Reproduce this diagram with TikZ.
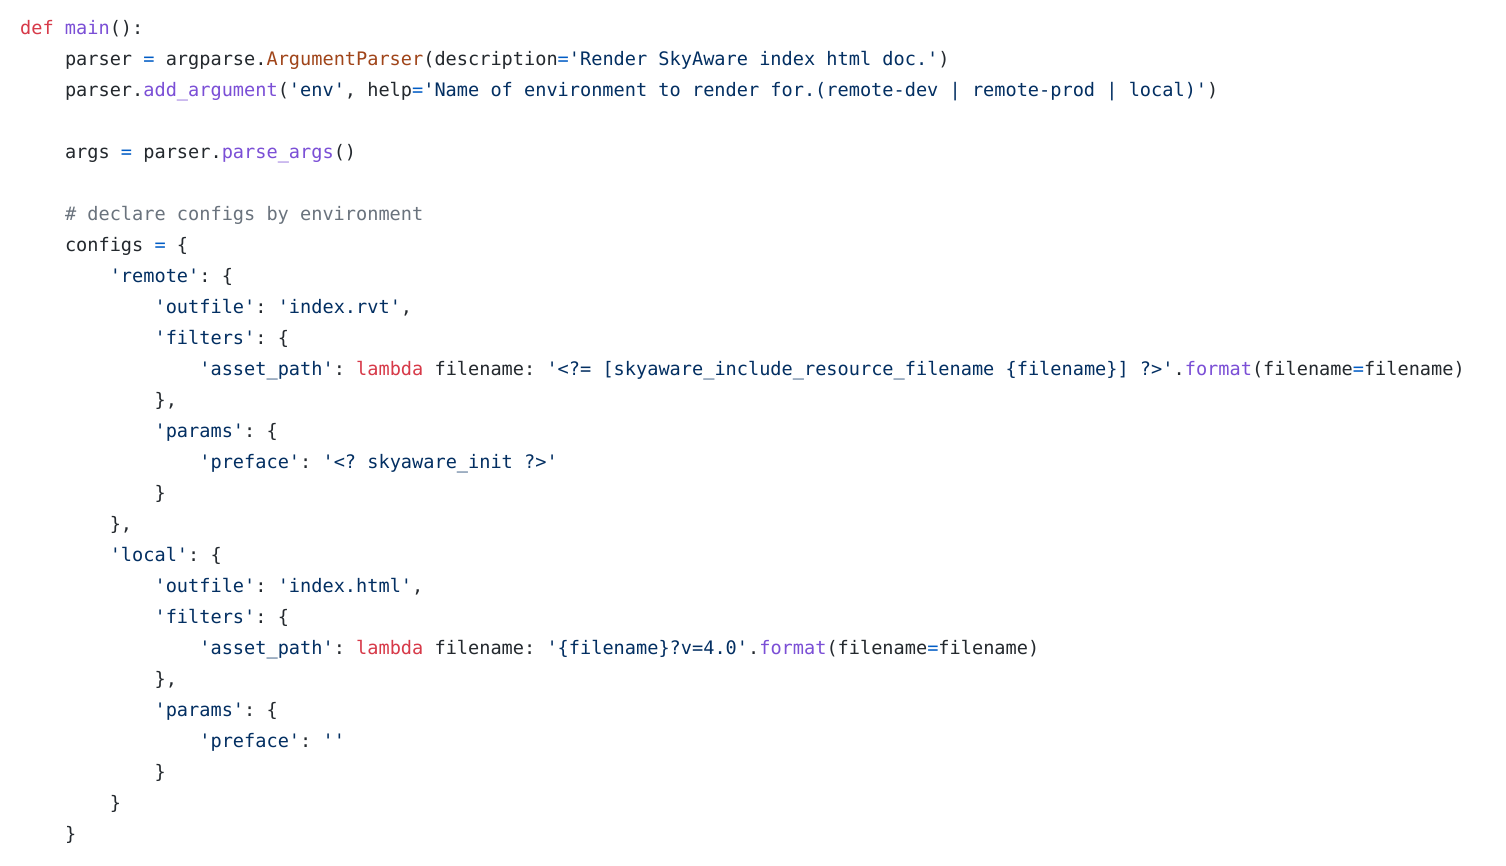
\documentclass[tikz,border=0pt]{standalone}
\usepackage{fontspec}
\newfontfamily\codefont{DejaVu Sans Mono}
\definecolor{ctext}{HTML}{24292E}
\definecolor{ckwc}{HTML}{D73A49}
\definecolor{cfnc}{HTML}{7B4FD6}
\definecolor{cclsc}{HTML}{A0451A}
\definecolor{cstrc}{HTML}{032F62}
\definecolor{copc}{HTML}{005CC5}
\definecolor{ccmc}{HTML}{6A737D}
\newcommand\ckw[1]{\textcolor{ckwc}{#1}}
\newcommand\cfn[1]{\textcolor{cfnc}{#1}}
\newcommand\ccls[1]{\textcolor{cclsc}{#1}}
\newcommand\cstr[1]{\textcolor{cstrc}{#1}}
\newcommand\cop[1]{\textcolor{copc}{#1}}
\newcommand\ccm[1]{\textcolor{ccmc}{#1}}
\begin{document}
\begin{tikzpicture}[x=1pt,y=1pt,
  codeline/.style={anchor=base west,inner sep=0pt,text=ctext,
    font=\codefont\fontsize{18.6}{31}\selectfont\frenchspacing}]
\fill[white] (0,0) rectangle (1506,866);
\useasboundingbox (0,0) rectangle (1506,866);
\def\ind#1{20+#1*11.2}
\node[codeline] (l1) at ({\ind{0}},866-35) {\ckw{def} \cfn{main}():};
\node[codeline] (l2) at ({\ind{4}},866-66) {parser \cop{=} argparse.\ccls{ArgumentParser}(description\cop{=}\cstr{'Render SkyAware index html doc.'})};
\node[codeline] (l3) at ({\ind{4}},866-97) {parser.\cfn{add\_argument}(\cstr{'env'}, help\cop{=}\cstr{'Name of environment to render for.(remote-dev | remote-prod | local)'})};
\node[codeline] (l4) at ({\ind{4}},866-159) {args \cop{=} parser.\cfn{parse\_args}()};
\node[codeline] (l5) at ({\ind{4}},866-221) {\ccm{\# declare configs by environment}};
\node[codeline] (l6) at ({\ind{4}},866-252) {configs \cop{=} \{};
\node[codeline] (l7) at ({\ind{8}},866-283) {\cstr{'remote'}: \{};
\node[codeline] (l8) at ({\ind{12}},866-314) {\cstr{'outfile'}: \cstr{'index.rvt'},};
\node[codeline] (l9) at ({\ind{12}},866-345) {\cstr{'filters'}: \{};
\node[codeline] (l10) at ({\ind{16}},866-376) {\cstr{'asset\_path'}: \ckw{lambda} filename: \cstr{'<?= [skyaware\_include\_resource\_filename \{filename\}] ?>'}.\cfn{format}(filename\cop{=}filename)};
\node[codeline] (l11) at ({\ind{12}},866-407) {\},};
\node[codeline] (l12) at ({\ind{12}},866-438) {\cstr{'params'}: \{};
\node[codeline] (l13) at ({\ind{16}},866-469) {\cstr{'preface'}: \cstr{'<? skyaware\_init ?>'}};
\node[codeline] (l14) at ({\ind{12}},866-500) {\}};
\node[codeline] (l15) at ({\ind{8}},866-531) {\},};
\node[codeline] (l16) at ({\ind{8}},866-562) {\cstr{'local'}: \{};
\node[codeline] (l17) at ({\ind{12}},866-593) {\cstr{'outfile'}: \cstr{'index.html'},};
\node[codeline] (l18) at ({\ind{12}},866-624) {\cstr{'filters'}: \{};
\node[codeline] (l19) at ({\ind{16}},866-655) {\cstr{'asset\_path'}: \ckw{lambda} filename: \cstr{'\{filename\}?v=4.0'}.\cfn{format}(filename\cop{=}filename)};
\node[codeline] (l20) at ({\ind{12}},866-686) {\},};
\node[codeline] (l21) at ({\ind{12}},866-717) {\cstr{'params'}: \{};
\node[codeline] (l22) at ({\ind{16}},866-748) {\cstr{'preface'}: \cstr{''}};
\node[codeline] (l23) at ({\ind{12}},866-779) {\}};
\node[codeline] (l24) at ({\ind{8}},866-810) {\}};
\node[codeline] (l25) at ({\ind{4}},866-841) {\}};
\end{tikzpicture}
\end{document}
